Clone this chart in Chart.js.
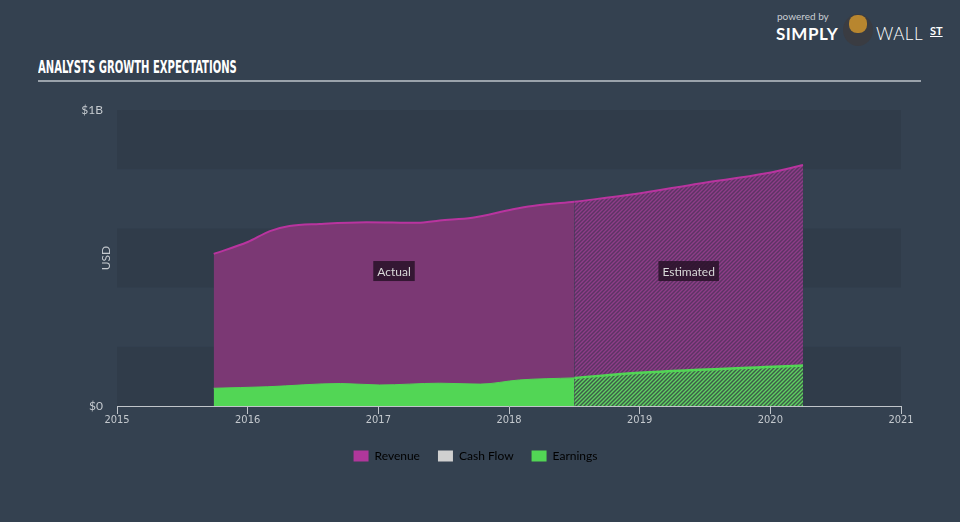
<!DOCTYPE html>
<html>
<head>
<meta charset="utf-8">
<script src="https://cdn.jsdelivr.net/npm/chart.js@4.4.1/dist/chart.umd.min.js"></script>
<style>
    html, body {
        margin: 0;
        padding: 0;
        width: 960px;
        height: 522px;
        overflow: hidden;
        background: #344150;
        font-family: Lato, 'Open Sans', sans-serif;
    }
    #title {
        position: absolute;
        left: 38px;
        top: 56px;
        font-family: 'DejaVu Sans Condensed', sans-serif;
        font-weight: bold;
        font-size: 18px;
        color: #ffffff;
        white-space: nowrap;
        transform: scaleX(0.62);
        transform-origin: left top;
    }
    #rule {
        position: absolute;
        left: 38px;
        top: 80px;
        width: 883px;
        height: 2px;
        background: #9aa2ab;
    }
    #logo {
        position: absolute;
        left: 776px;
        top: 10px;
        width: 180px;
        height: 40px;
        color: #ffffff;
    }
    #logo .powered {
        position: absolute;
        left: 1px;
        top: 0px;
        font-size: 10px;
        color: #c9ced3;
    }
    #logo .simply {
        position: absolute;
        left: 0px;
        top: 13px;
        font-size: 17px;
        font-weight: bold;
        letter-spacing: 0.5px;
    }
    #logo .wall {
        position: absolute;
        left: 100px;
        top: 13px;
        font-size: 17px;
        font-weight: 300;
        letter-spacing: 0.5px;
    }
    #logo .st {
        position: absolute;
        left: 154px;
        top: 14px;
        font-size: 11px;
        font-weight: bold;
        text-decoration: underline;
    }
    #logo .bull {
        position: absolute;
        left: 67px;
        top: 4px;
        width: 30px;
        height: 32px;
        border-radius: 50%;
        background: #3a3c42;
    }
    #logo .bull::after {
        content: '';
        position: absolute;
        left: 6px;
        top: 1px;
        width: 18px;
        height: 18px;
        border-radius: 45%;
        background: #b8862f;
    }
    #chart-box {
        position: absolute;
        left: 0;
        top: 0;
        width: 960px;
        height: 522px;
    }
</style>
</head>
<body>
<div id="title">ANALYSTS GROWTH EXPECTATIONS</div>
<div id="rule"></div>
<div id="logo">
    <span class="powered">powered by</span>
    <span class="simply">SIMPLY</span>
    <span class="bull"></span>
    <span class="wall">WALL</span>
    <span class="st">ST</span>
</div>
<div id="chart-box"><canvas id="myChart" width="960" height="522"></canvas></div>

<script>
// values in billions of USD, x in fractional years
const revenueYearsActual = [2015.74, 2016.0, 2016.17, 2016.32, 2016.55, 2016.91, 2017.3, 2017.47, 2017.72, 2018.03, 2018.18, 2018.5];
const revenueActual = [0.514, 0.554, 0.591, 0.608, 0.615, 0.621, 0.619, 0.627, 0.636, 0.665, 0.676, 0.690];
const revenueYearsEstimated = [2018.5, 2018.95, 2019.46, 2019.97, 2020.25];
const revenueEstimated = [0.690, 0.715, 0.752, 0.786, 0.814];

const earningsYearsActual = [2015.74, 2016.15, 2016.71, 2017.01, 2017.47, 2017.78, 2018.08, 2018.5];
const earningsActual = [0.060, 0.065, 0.076, 0.071, 0.077, 0.074, 0.088, 0.095];
const earningsYearsEstimated = [2018.5, 2019.0, 2020.25];
const earningsEstimated = [0.095, 0.112, 0.137];

const xTicks = [2015, 2016, 2017, 2018, 2019, 2020, 2021];
const yTickLabels = {0: '$0', 1: '$1B'};
const legendItems = ['Revenue', 'Cash Flow', 'Earnings'];
const legendColors = ['#b0379b', '#d0d0d0', '#52d655'];

function toPoints(xs, ys) {
    return xs.map((x, i) => ({x: x, y: ys[i]}));
}

function makeHatch(base, stripe) {
    const c = document.createElement('canvas');
    c.width = 4;
    c.height = 4;
    const g = c.getContext('2d');
    g.fillStyle = base;
    g.fillRect(0, 0, 4, 4);
    g.strokeStyle = stripe;
    g.lineWidth = 1.4;
    g.beginPath();
    g.moveTo(-1, 5); g.lineTo(5, -1);
    g.moveTo(-1, 1); g.lineTo(1, -1);
    g.moveTo(3, 5); g.lineTo(5, 3);
    g.stroke();
    return g.createPattern(c, 'repeat');
}

const bandsPlugin = {
    id: 'bands',
    beforeDraw(chart) {
        const {ctx, chartArea, scales} = chart;
        const y = scales.y;
        ctx.save();
        ctx.fillStyle = 'rgba(20, 30, 42, 0.13)';
        [[0.8, 1.0], [0.4, 0.6], [0, 0.2]].forEach(([a, b]) => {
            const top = y.getPixelForValue(b);
            const bottom = y.getPixelForValue(a);
            ctx.fillRect(chartArea.left, top, chartArea.right - chartArea.left, bottom - top);
        });
        // axis title
        ctx.translate(106, (chartArea.top + chartArea.bottom) / 2);
        ctx.rotate(-Math.PI / 2);
        ctx.fillStyle = '#c4c9ce';
        ctx.font = '12px Lato, sans-serif';
        ctx.textAlign = 'center';
        ctx.textBaseline = 'middle';
        ctx.fillText('USD', 0, 0);
        ctx.restore();
    }
};

const periodLabelPlugin = {
    id: 'periodLabels',
    afterDatasetsDraw(chart) {
        const {ctx, scales} = chart;
        const x = scales.x;
        const y = scales.y;
        const labelY = y.getPixelForValue(0.456);
        const spans = [
            ['Actual', revenueYearsActual[0], revenueYearsActual[revenueYearsActual.length - 1]],
            ['Estimated', revenueYearsEstimated[0], revenueYearsEstimated[revenueYearsEstimated.length - 1]]
        ];
        ctx.save();
        ctx.font = '12px Lato, sans-serif';
        ctx.textAlign = 'center';
        ctx.textBaseline = 'middle';
        spans.forEach(([text, a, b]) => {
            const cx = (x.getPixelForValue(a) + x.getPixelForValue(b)) / 2;
            const w = ctx.measureText(text).width + 8;
            ctx.fillStyle = 'rgba(40, 18, 40, 0.85)';
            ctx.fillRect(cx - w / 2, labelY - 10, w, 20);
            ctx.fillStyle = '#d9d9d9';
            ctx.fillText(text, cx, labelY + 1);
        });
        ctx.restore();
    }
};

window.onload = () => {
    const chartContext = document.getElementById('myChart').getContext('2d');
    const revenueHatch = makeHatch('#5c3464', '#8e3d88');
    const earningsHatch = makeHatch('#3d5c49', '#5fd161');

    const chartConfig = {
        type: 'line',
        data: {
            datasets: [
                {
                    label: 'Earnings',
                    data: toPoints(earningsYearsActual, earningsActual),
                    borderColor: '#52d655',
                    backgroundColor: '#52d655',
                    borderWidth: 1,
                    fill: 'origin',
                    pointRadius: 0,
                    cubicInterpolationMode: 'monotone',
                    order: 0
                },
                {
                    label: 'Earnings estimated',
                    data: toPoints(earningsYearsEstimated, earningsEstimated),
                    borderColor: '#52d655',
                    backgroundColor: earningsHatch,
                    borderWidth: 2.5,
                    fill: 'origin',
                    pointRadius: 0,
                    cubicInterpolationMode: 'monotone',
                    order: 1
                },
                {
                    label: 'Revenue',
                    data: toPoints(revenueYearsActual, revenueActual),
                    borderColor: '#b9349f',
                    backgroundColor: '#7b3874',
                    borderWidth: 2,
                    fill: 'origin',
                    pointRadius: 0,
                    cubicInterpolationMode: 'monotone',
                    order: 2
                },
                {
                    label: 'Revenue estimated',
                    data: toPoints(revenueYearsEstimated, revenueEstimated),
                    borderColor: '#b9349f',
                    backgroundColor: revenueHatch,
                    borderWidth: 2,
                    fill: 'origin',
                    pointRadius: 0,
                    cubicInterpolationMode: 'monotone',
                    order: 3
                }
            ]
        },
        options: {
            responsive: false,
            animation: false,
            layout: {
                padding: {left: 50, right: 59, top: 110, bottom: 50}
            },
            scales: {
                x: {
                    type: 'linear',
                    min: xTicks[0],
                    max: xTicks[xTicks.length - 1],
                    afterBuildTicks: (scale) => {
                        scale.ticks = xTicks.map(v => ({value: v}));
                    },
                    afterFit: (scale) => {
                        scale.height = 26;
                    },
                    grid: {
                        drawOnChartArea: false,
                        drawTicks: true,
                        tickLength: 8,
                        color: '#c0c5ca'
                    },
                    border: {
                        color: '#c0c5ca',
                        width: 1
                    },
                    ticks: {
                        padding: 0,
                        color: '#c4c9ce',
                        font: {family: "'DejaVu Sans Condensed', sans-serif", size: 11},
                        maxRotation: 0,
                        callback: (value) => String(value)
                    }
                },
                y: {
                    min: 0,
                    max: 1,
                    afterBuildTicks: (scale) => {
                        scale.ticks = [{value: 0}, {value: 1}];
                    },
                    afterFit: (scale) => {
                        scale.width = 67;
                    },
                    grid: {display: false, drawTicks: false},
                    border: {display: false},
                    ticks: {
                        padding: 14,
                        color: '#c4c9ce',
                        font: {family: 'Lato, sans-serif', size: 12},
                        callback: (value) => yTickLabels[value]
                    }
                }
            },
            plugins: {
                tooltip: {enabled: false},
                legend: {
                    position: 'bottom',
                    onClick: null,
                    labels: {
                        boxWidth: 15,
                        boxHeight: 11,
                        padding: 18,
                        color: '#d6d9dc',
                        font: {family: 'Lato, sans-serif', size: 12},
                        generateLabels: () => legendItems.map((name, i) => ({
                            text: name,
                            fillStyle: legendColors[i],
                            strokeStyle: legendColors[i],
                            lineWidth: 0,
                            hidden: false,
                            datasetIndex: i
                        }))
                    }
                }
            }
        },
        plugins: [bandsPlugin, periodLabelPlugin]
    };

    const myChart = new Chart(chartContext, chartConfig);
};
</script>
</body>
</html>
